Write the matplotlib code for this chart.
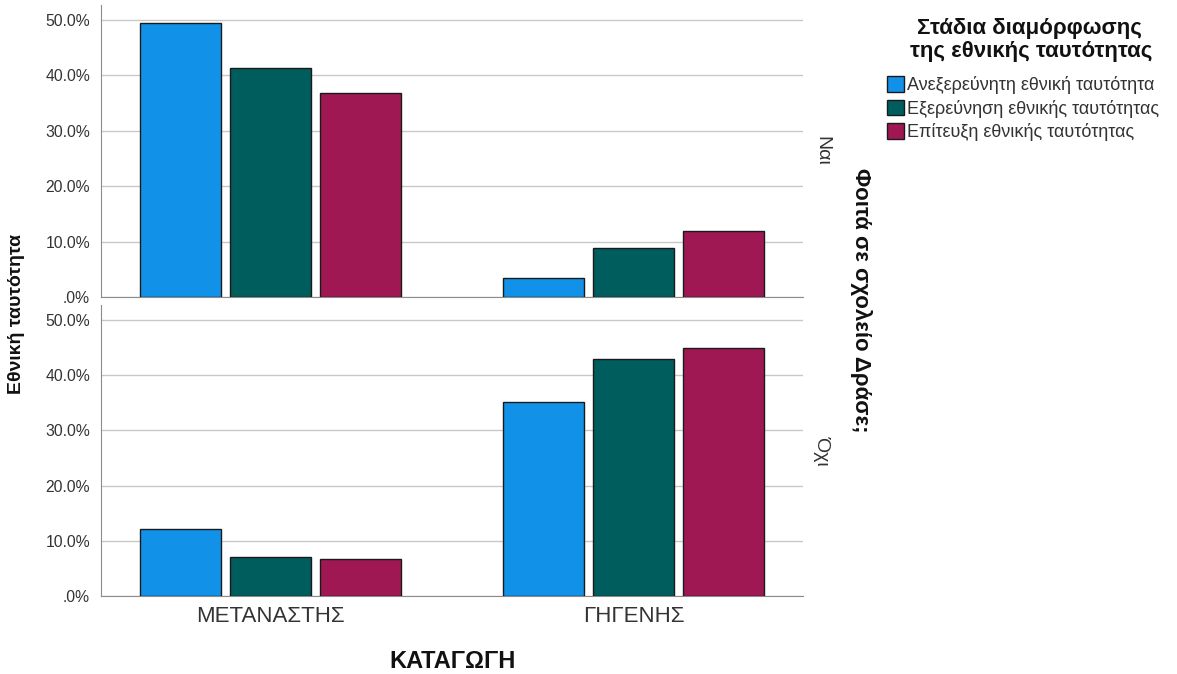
import matplotlib
matplotlib.use("Agg")
import matplotlib.pyplot as plt
from matplotlib.patches import Patch
from matplotlib.ticker import FuncFormatter
import numpy as np

plt.rcParams['font.family'] = ['Liberation Sans', 'DejaVu Sans']

categories = ["ΜΕΤΑΝΑΣΤΗΣ", "ΓΗΓΕΝΗΣ"]
series_names = ["Ανεξερεύνητη εθνική ταυτότητα",
                "Εξερεύνηση εθνικής ταυτότητας",
                "Επίτευξη εθνικής ταυτότητας"]
legend_title = ["Στάδια διαμόρφωσης", "της εθνικής ταυτότητας"]
colors = ["#1192e8", "#005d5d", "#9f1853"]
panel_labels = ["Ναι", "Όχι"]

# values in percent: [series][category]
nai_values = [[49.5, 3.4],
              [41.3, 8.8],
              [36.8, 11.9]]
oxi_values = [[12.1, 35.2],
              [7.0, 43.0],
              [6.7, 44.9]]
yticks = [0, 10, 20, 30, 40, 50]

fig = plt.figure(figsize=(11.77, 6.74), dpi=100)
ax_top = fig.add_axes([0.0858, 0.5593, 0.5964, 0.4332])
ax_bot = fig.add_axes([0.0858, 0.1157, 0.5964, 0.4318])

x = np.arange(len(categories))
width = 0.223
offset = 0.248

def fmt(v, pos):
    return ".0%" if v == 0 else f"{v:.1f}%"

for ax, vals, lab in [(ax_top, nai_values, panel_labels[0]), (ax_bot, oxi_values, panel_labels[1])]:
    for i, (sv, c) in enumerate(zip(vals, colors)):
        ax.bar(x + (i - 1) * offset, sv, width, color=c, edgecolor="#1a1a1a",
               linewidth=1.0, zorder=3)
    ax.set_xlim(-0.468, 1.466)
    ax.set_ylim(0, 52.7)
    ax.set_yticks(yticks)
    ax.yaxis.set_major_formatter(FuncFormatter(fmt))
    ax.grid(axis="y", color="#c8c8c8", linewidth=1.0, zorder=0)
    ax.set_axisbelow(True)
    for s in ["top", "right"]:
        ax.spines[s].set_visible(False)
    ax.spines["left"].set_color("#8c8c8c")
    ax.spines["bottom"].set_color("#8c8c8c")
    ax.tick_params(axis="both", length=0, labelsize=11.3, colors="#333333", pad=8)
    ax.text(1.0 + 0.027, 0.5, lab, transform=ax.transAxes, rotation=-90,
            ha="center", va="center", fontsize=14, color="#333333")

ax_top.set_xticks([])
ax_bot.set_xticks(x)
ax_bot.set_xticklabels(categories, fontsize=16, color="#333333")
ax_bot.tick_params(axis="x", pad=7)

fig.text(453 / 1177, 1 - 662 / 674, "ΚΑΤΑΓΩΓΗ", ha="center", va="center",
         fontsize=17, fontweight="bold", color="#111111")
fig.text(17 / 1177, 1 - 314 / 674, "Εθνική ταυτότητα", ha="center", va="center",
         rotation=90, fontsize=14, fontweight="bold", color="#111111")
fig.text(861 / 1177, 1 - 300 / 674, "Φοιτά σε σχολείο Δράσε;", ha="center", va="center",
         rotation=-90, fontsize=16, fontweight="bold", color="#111111")

# legend title (two centred lines)
fig.text(1029 / 1177, 1 - 28.5 / 674, legend_title[0], ha="center", va="center",
         fontsize=16, fontweight="bold", color="#111111")
fig.text(1031 / 1177, 1 - 51.5 / 674, legend_title[1], ha="center", va="center",
         fontsize=16, fontweight="bold", color="#111111")

handles = [Patch(facecolor=c, edgecolor="#1a1a1a", linewidth=1.0) for c in colors]
leg = fig.legend(handles, series_names, loc="upper left",
                 bbox_to_anchor=(887 / 1177, 1 - 76 / 674),
                 fontsize=13, frameon=False, handlelength=0.95, handleheight=0.95,
                 handletextpad=0.15, labelspacing=0.31, borderaxespad=0, borderpad=0)
for t in leg.get_texts():
    t.set_color("#333333")

fig.savefig("out.png", dpi=100)
